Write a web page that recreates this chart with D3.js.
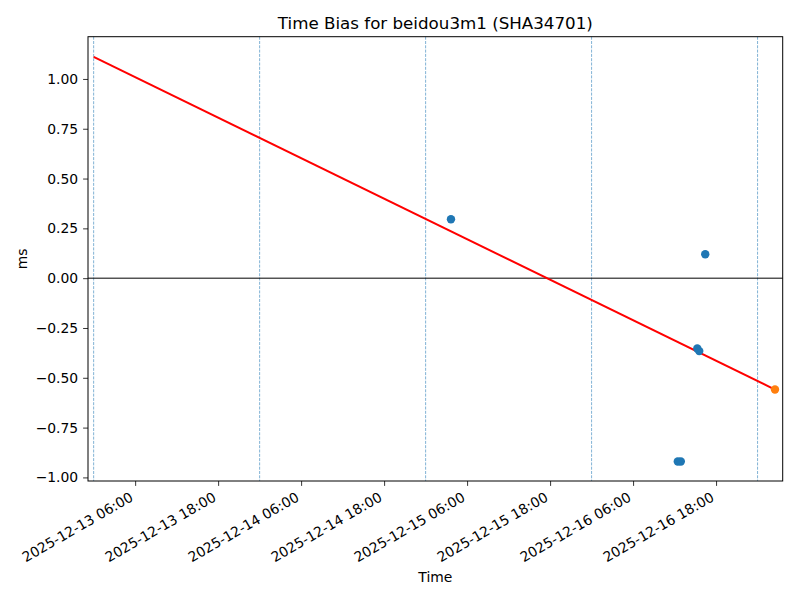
<!DOCTYPE html>
<html>
<head>
<meta charset="utf-8">
<script src="https://cdn.jsdelivr.net/npm/d3@7"></script>
<style>
    body { margin: 0; background: #fff; }
    #chart svg { display: block; font-family: "DejaVu Sans", sans-serif; }
</style>
</head>
<body>
<div id="chart"></div>
<script>
// Measured bias points (UTC time, ms)
const biasTimes = [
    "2025-12-15T03:40", "2025-12-16T16:26", "2025-12-16T15:17",
    "2025-12-16T15:34", "2025-12-16T12:28", "2025-12-16T12:54"
];
const biasValues = [0.296, 0.120, -0.353, -0.366, -0.920, -0.920];

// Predicted point at the end of the fit
const predTimes = ["2025-12-17T02:31"];
const predValues = [-0.559];

// Fitted trend line
const fitTimes = ["2025-12-13T00:00", "2025-12-17T02:31"];
const fitValues = [1.111, -0.559];

// Day boundaries
const dayLines = ["2025-12-13", "2025-12-14", "2025-12-15", "2025-12-16", "2025-12-17"];

// Axis ranges and ticks
const xRange = ["2025-12-12T23:11", "2025-12-17T03:38"];
const xTicks = [
    "2025-12-13T06:00", "2025-12-13T18:00", "2025-12-14T06:00", "2025-12-14T18:00",
    "2025-12-15T06:00", "2025-12-15T18:00", "2025-12-16T06:00", "2025-12-16T18:00"
];
const yRange = [-1.018, 1.212];
const yTicks = [-1.0, -0.75, -0.5, -0.25, 0, 0.25, 0.5, 0.75, 1.0];

const parseTime = d3.utcParse("%Y-%m-%dT%H:%M");
const parseDay = d3.utcParse("%Y-%m-%d");

function drawChart() {
    const width = 800, height = 600;
    const margin = { top: 36.7, right: 17.3, bottom: 119, left: 88 };
    const font = "DejaVu Sans, sans-serif";

    const svg = d3.select("#chart")
        .append("svg")
        .attr("width", width)
        .attr("height", height);

    const x = d3.scaleUtc()
        .domain(xRange.map(parseTime))
        .range([margin.left, width - margin.right]);

    const y = d3.scaleLinear()
        .domain(yRange)
        .range([height - margin.bottom, margin.top]);

    const fmtTime = d3.utcFormat("%Y-%m-%d %H:%M");

    // Day separators
    svg.append("g")
        .selectAll("line")
        .data(dayLines.map(parseDay))
        .enter()
        .append("line")
        .attr("x1", d => x(d))
        .attr("x2", d => x(d))
        .attr("y1", margin.top)
        .attr("y2", height - margin.bottom)
        .attr("stroke", "#1f77b4")
        .attr("stroke-opacity", 0.7)
        .attr("stroke-width", 0.8)
        .attr("stroke-dasharray", "3,1.3");

    // Zero line
    svg.append("line")
        .attr("x1", margin.left)
        .attr("x2", width - margin.right)
        .attr("y1", y(0))
        .attr("y2", y(0))
        .attr("stroke", "#000")
        .attr("stroke-width", 1);

    // Trend line
    const fit = fitTimes.map((t, i) => ({ t: parseTime(t), v: fitValues[i] }));
    svg.append("path")
        .datum(fit)
        .attr("fill", "none")
        .attr("stroke", "red")
        .attr("stroke-width", 2)
        .attr("d", d3.line().x(d => x(d.t)).y(d => y(d.v)));

    // Measured points
    const pts = biasTimes.map((t, i) => ({ t: parseTime(t), v: biasValues[i] }));
    svg.append("g")
        .selectAll("circle")
        .data(pts)
        .enter()
        .append("circle")
        .attr("cx", d => x(d.t))
        .attr("cy", d => y(d.v))
        .attr("r", 4.2)
        .attr("fill", "#1f77b4");

    // Predicted point
    const pred = predTimes.map((t, i) => ({ t: parseTime(t), v: predValues[i] }));
    svg.append("g")
        .selectAll("circle")
        .data(pred)
        .enter()
        .append("circle")
        .attr("cx", d => x(d.t))
        .attr("cy", d => y(d.v))
        .attr("r", 4.2)
        .attr("fill", "#ff7f0e");

    // X axis
    const xAxis = svg.append("g")
        .attr("transform", `translate(0,${height - margin.bottom})`)
        .call(d3.axisBottom(x)
            .tickValues(xTicks.map(parseTime))
            .tickFormat(fmtTime)
            .tickSize(4.9)
            .tickPadding(0));
    xAxis.attr("font-family", font).attr("font-size", 13.9);
    xAxis.select(".domain").remove();
    xAxis.selectAll(".tick line").attr("stroke-width", 0.8);
    xAxis.selectAll(".tick text")
        .attr("fill", "#000")
        .attr("text-anchor", "end")
        .attr("dy", null)
        .attr("y", null)
        .attr("transform", "translate(-1.5,19) rotate(-30)");

    // Y axis
    const yAxis = svg.append("g")
        .attr("transform", `translate(${margin.left},0)`)
        .call(d3.axisLeft(y)
            .tickValues(yTicks)
            .tickFormat(d3.format(".2f"))
            .tickSize(4.9)
            .tickPadding(4.9));
    yAxis.attr("font-family", font).attr("font-size", 13.9);
    yAxis.select(".domain").remove();
    yAxis.selectAll(".tick line").attr("stroke-width", 0.8);
    yAxis.selectAll(".tick text").attr("fill", "#000");

    // Frame
    svg.append("rect")
        .attr("x", margin.left)
        .attr("y", margin.top)
        .attr("width", width - margin.left - margin.right)
        .attr("height", height - margin.top - margin.bottom)
        .attr("fill", "none")
        .attr("stroke", "#000")
        .attr("stroke-width", 1);

    // Labels
    const cx = (margin.left + width - margin.right) / 2;
    svg.append("text")
        .attr("x", cx)
        .attr("y", 29)
        .attr("text-anchor", "middle")
        .attr("font-size", 16.7)
        .text("Time Bias for beidou3m1 (SHA34701)");

    svg.append("text")
        .attr("x", cx)
        .attr("y", 582)
        .attr("text-anchor", "middle")
        .attr("font-size", 13.9)
        .text("Time");

    svg.append("text")
        .attr("transform", `translate(27,${(margin.top + height - margin.bottom) / 2}) rotate(-90)`)
        .attr("text-anchor", "middle")
        .attr("font-size", 13.9)
        .text("ms");
}

document.addEventListener('DOMContentLoaded', drawChart);
</script>
</body>
</html>
